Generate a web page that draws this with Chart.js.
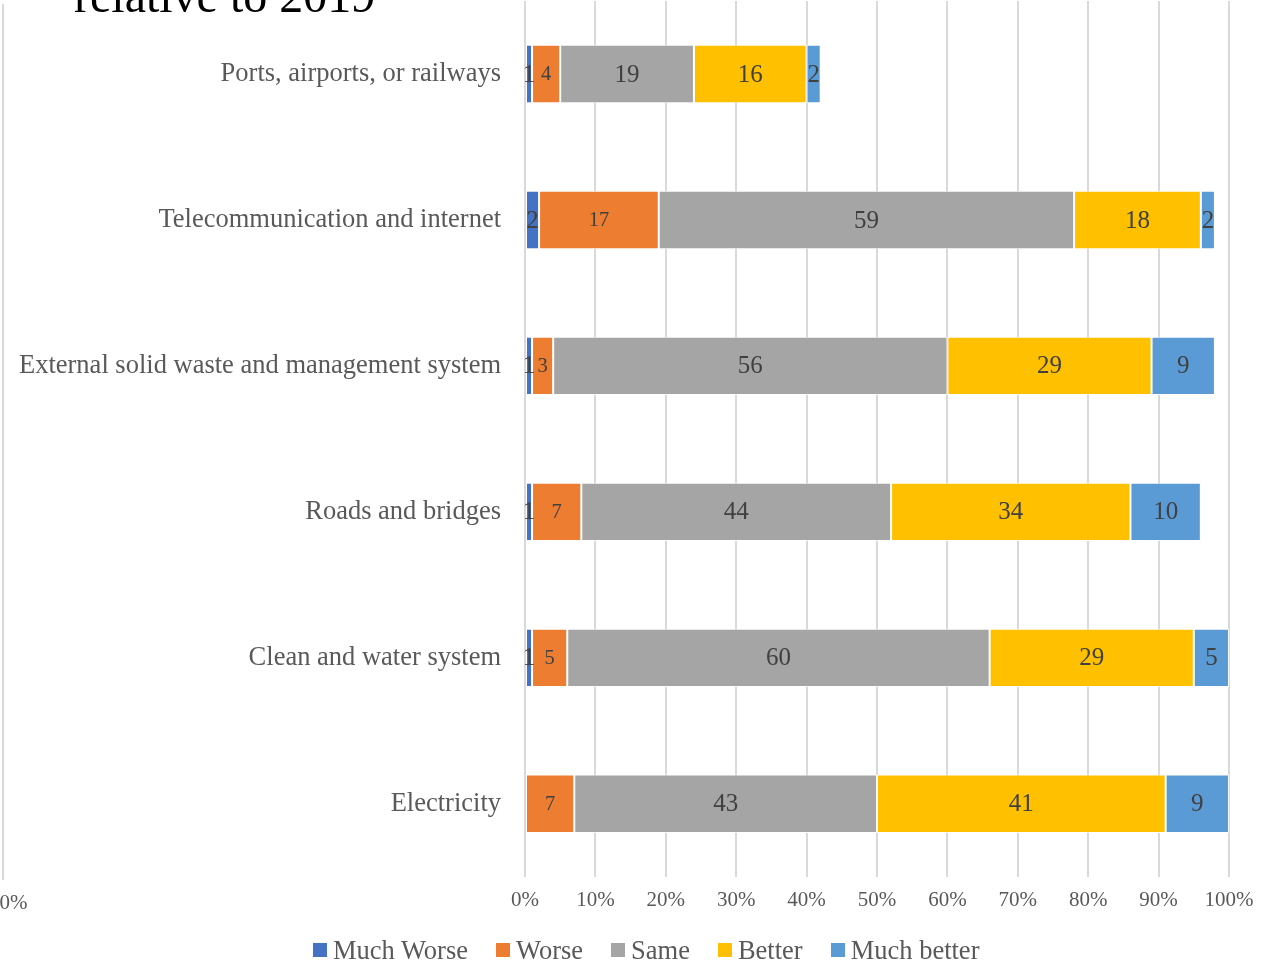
<!DOCTYPE html>
<html>
<head>
<meta charset="utf-8">
<script src="https://cdn.jsdelivr.net/npm/chart.js@4.4.1/dist/chart.umd.min.js"></script>
<style>
  html, body { margin: 0; padding: 0; background: #fff; overflow: hidden; }
  #wrap { position: relative; width: 1281px; height: 965px; overflow: hidden; }
  #prevChart { position: absolute; top: 3px; left: 0; }
  #mainChart { position: absolute; top: 0; left: 0; }
  #legend {
    position: absolute; left: 313px; top: 937px;
    display: flex; align-items: center; white-space: nowrap;
    font: 26.5px/26px 'Liberation Serif', 'Times New Roman', serif;
    color: #595959;
  }
  #legend .item { display: flex; align-items: center; margin-right: 28px; }
  #legend .box { width: 14px; height: 14px; margin-right: 6px; }
</style>
</head>
<body>
<div id="wrap">
  <canvas id="prevChart" width="1281" height="965"></canvas>
  <canvas id="mainChart" width="1281" height="965"></canvas>
  <div id="legend"></div>
</div>
<script>
const categories = [
  "Ports, airports, or railways",
  "Telecommunication and internet",
  "External solid waste and management system",
  "Roads and bridges",
  "Clean and water system",
  "Electricity"
];
const muchWorse  = [1, 2, 1, 1, 1, null];
const worse      = [4, 17, 3, 7, 5, 7];
const same       = [19, 59, 56, 44, 60, 43];
const better     = [16, 18, 29, 34, 29, 41];
const muchBetter = [2, 2, 9, 10, 5, 9];
const tickValues = [0, 10, 20, 30, 40, 50, 60, 70, 80, 90, 100];

// neighbouring panel, only its right edge is in view
const prevBetter = [null, null, null, null, null, 99.7];

const serif = "'Liberation Serif', 'Times New Roman', serif";
const gridGray = "#D9D9D9";
const axisText = "#595959";

/* Writes each segment's value in the middle of the segment */
const valueLabels = {
  id: "valueLabels",
  afterDatasetsDraw(chart) {
    const ctx = chart.ctx;
    ctx.save();
    ctx.textAlign = "center";
    ctx.textBaseline = "middle";
    ctx.fillStyle = "#404040";
    chart.data.datasets.forEach((ds, i) => {
      const meta = chart.getDatasetMeta(i);
      if (meta.hidden) return;
      ctx.font = (ds.labelSize || 25) + "px " + serif;
      meta.data.forEach((bar, j) => {
        const v = ds.data[j];
        if (v == null) return;
        ctx.fillText(String(v), (bar.x + bar.base) / 2, bar.y + 1);
      });
    });
    ctx.restore();
  }
};

/* Large heading line at the top, partly cut off */
const headingLine = {
  id: "headingLine",
  afterDraw(chart) {
    const ctx = chart.ctx;
    ctx.save();
    ctx.font = "48px " + serif;
    ctx.fillStyle = "#000";
    ctx.textAlign = "left";
    ctx.textBaseline = "alphabetic";
    ctx.fillText("relative to 2019", 74, 12);
    ctx.restore();
  }
};

const makeOptions = () => ({
  indexAxis: "y",
  responsive: false,
  animation: false,
  layout: { padding: { top: 1, right: 52, bottom: 41, left: 0 } },
  plugins: {
    legend: { display: false },
    tooltip: { enabled: false }
  },
  scales: {
    x: {
      stacked: true,
      min: 0,
      max: 100,
      afterBuildTicks: (scale) => {
        scale.ticks = tickValues.map(v => ({ value: v }));
      },
      grid: { color: gridGray, lineWidth: 2, drawTicks: false },
      border: { display: false },
      ticks: {
        padding: 11,
        color: axisText,
        font: { family: serif, size: 21 },
        maxRotation: 0,
        callback: (v) => v + "%"
      }
    },
    y: {
      stacked: true,
      afterFit: (scale) => {
        scale.width = 525;
        scale.paddingTop = 0;
        scale.paddingBottom = 0;
      },
      grid: { display: false, drawTicks: false },
      border: { display: false },
      ticks: {
        padding: 24,
        color: axisText,
        font: { family: serif, size: 26.5 }
      }
    }
  }
});

const series = (label, data, color, labelSize) => ({
  label,
  data,
  backgroundColor: color,
  borderColor: "rgba(255,255,255,0.85)",
  borderWidth: 1,
  borderSkipped: false,
  barPercentage: 0.4,
  categoryPercentage: 1,
  labelSize
});

const prev = new Chart(document.getElementById("prevChart"), {
  type: "bar",
  data: {
    labels: categories,
    datasets: [series("Better", prevBetter, "#FFC000")]
  },
  options: makeOptions()
});
// slide the neighbouring panel so that its 100% line sits at the left edge
prev.canvas.style.left = (3 - prev.chartArea.right) + "px";

const chart = new Chart(document.getElementById("mainChart"), {
  type: "bar",
  data: {
    labels: categories,
    datasets: [
      series("Much Worse", muchWorse, "#4472C4", 25),
      series("Worse", worse, "#ED7D31", 20.5),
      series("Same", same, "#A5A5A5", 25),
      series("Better", better, "#FFC000", 25),
      series("Much better", muchBetter, "#5B9BD5", 25)
    ]
  },
  options: makeOptions(),
  plugins: [valueLabels, headingLine]
});

/* Legend row under the axis, built from the chart's datasets */
const legendEl = document.getElementById("legend");
chart.data.datasets.forEach(ds => {
  const item = document.createElement("span");
  item.className = "item";
  const box = document.createElement("span");
  box.className = "box";
  box.style.background = ds.backgroundColor;
  item.appendChild(box);
  item.appendChild(document.createTextNode(ds.label));
  legendEl.appendChild(item);
});
</script>
</body>
</html>
